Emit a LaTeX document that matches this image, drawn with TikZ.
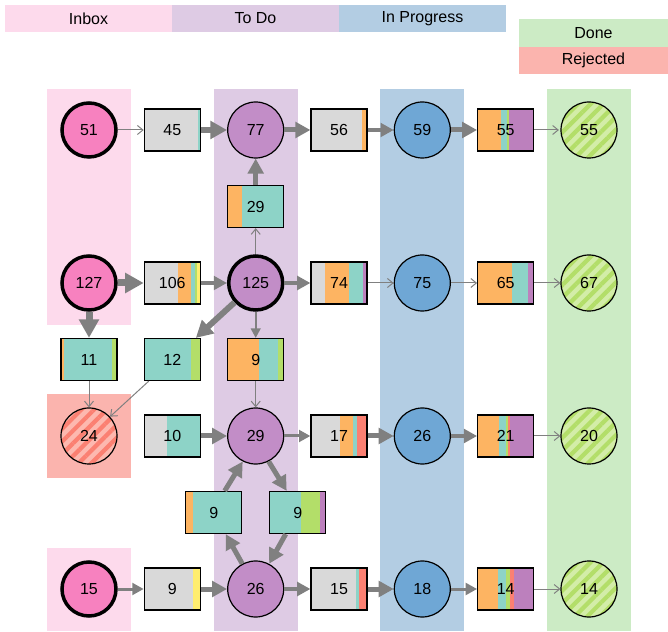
\documentclass[tikz,border=0pt]{standalone}
\usepackage{fontspec}
\setmainfont{Liberation Sans}
\usetikzlibrary{arrows.meta,patterns.meta}
% lane colours
\definecolor{inboxbg}{HTML}{FDDAEC}
\definecolor{todobg}{HTML}{DECBE4}
\definecolor{progbg}{HTML}{B3CDE3}
\definecolor{donebg}{HTML}{CCEBC5}
\definecolor{rejbg}{HTML}{FBB4AE}
% state fills
\definecolor{inboxfill}{HTML}{F781BF}
\definecolor{todofill}{HTML}{C28DC7}
\definecolor{progfill}{HTML}{6FA7D5}
\definecolor{donelight}{HTML}{D3EDA8}
\definecolor{rejlight}{HTML}{FDB8AF}
% segment colours of the transition boxes
\definecolor{sgray}{HTML}{D9D9D9}
\definecolor{sorange}{HTML}{FDB462}
\definecolor{steal}{HTML}{8DD3C7}
\definecolor{sgreen}{HTML}{B3DE69}
\definecolor{spurple}{HTML}{BC80BD}
\definecolor{sred}{HTML}{FB8072}
\definecolor{syellow}{HTML}{FFED6F}
\definecolor{flowgray}{HTML}{808080}

\begin{document}
\begin{tikzpicture}[x=1pt,y=1pt,
 every node/.style={font=\fontsize{16}{19}\selectfont},
 head/.style={minimum width=167pt,minimum height=27.5pt,inner sep=0pt},
 state/.style={circle,draw=black,line width=1.2pt,minimum size=56pt,inner sep=0pt},
 inbox/.style={state,fill=inboxfill,line width=3.5pt,minimum size=54pt},
 todo/.style={state,fill=todofill},
 prog/.style={state,fill=progfill},
 done/.style={state,preaction={fill=donelight},pattern={Lines[angle=45,distance=9pt,line width=4.2pt]},pattern color=sgreen},
 rej/.style={state,preaction={fill=rejlight},pattern={Lines[angle=45,distance=9pt,line width=4.2pt]},pattern color=sred},
 hop/.style={rectangle,draw=black,line width=1.2pt,minimum width=56pt,minimum height=42pt,inner sep=0pt,
  path picture={\foreach \segcol/\xb [remember=\xb as \xa (initially 0)] in {#1}
   \fill[\segcol] ([xshift=\xa pt]path picture bounding box.south west) rectangle ([xshift=\xb pt]path picture bounding box.north west);}},
 trickle/.style={draw=flowgray,line width=1pt,-{Straight Barb[length=5.5pt,width=9pt]}},
 flow/.style={draw=flowgray,line width=#1pt,-{Triangle[length=6pt 1.8,width=6pt 1.9]}}]
\useasboundingbox (0,0) rectangle (668,631);
% lanes
\fill[inboxbg] (47,305.5) rectangle (131,542);
\fill[inboxbg] (47,0) rectangle (131,83);
\fill[rejbg] (47,153) rectangle (131,237);
\fill[todobg] (213.7,0) rectangle (297.7,542);
\fill[progbg] (380.3,0) rectangle (464.3,542);
\fill[donebg] (547,0) rectangle (631,542);
% legend
\node[head,fill=inboxbg] (hInbox) at (88.5,612.5) {Inbox};
\node[head,fill=todobg] (hTodo) at (255.5,612.5) {To Do};
\node[head,fill=progbg] (hProg) at (422.5,612.5) {In Progress};
\node[head,fill=donebg,minimum width=149pt] (hDone) at (593.5,597.75) {Done};
\node[head,fill=rejbg,minimum width=149pt] (hRej) at (593.5,570.25) {Rejected};
% row A
\node[inbox] (inA) at (89,501) {51};
\node[hop={sgray/53.5,steal/56}] (mvA1) at (172.3,501) {45};
\node[todo] (todoA) at (255.7,501) {77};
\node[hop={sgray/51,sorange/55,steal/56}] (mvA3) at (339,501) {56};
\node[prog] (progA) at (422.3,501) {59};
\node[hop={sorange/23,steal/29,sgreen/31,spurple/56}] (mvA5) at (505.7,501) {55};
\node[done] (doneA) at (589,501) {55};
\node[hop={sorange/14,steal/55,sgreen/56}] (mvAB) at (255.7,424.5) {29};
% row B
\node[inbox] (inB) at (89,348) {127};
\node[hop={sgray/34,sorange/47,steal/50.5,sgreen/53,syellow/55.5,spurple/56}] (mvB1) at (172.3,348) {106};
\node[todo,line width=3.5pt,minimum size=54pt] (todoB) at (255.7,348) {125};
\node[hop={sgray/13.5,sorange/38,steal/52,spurple/56}] (mvB3) at (339,348) {74};
\node[prog] (progB) at (422.3,348) {75};
\node[hop={sorange/34,steal/50,spurple/56}] (mvB5) at (505.7,348) {65};
\node[done] (doneB) at (589,348) {67};
\node[hop={sorange/2.5,steal/50.5,sgreen/56}] (mvBC0) at (89,271.5) {11};
\node[hop={steal/47,sgreen/56}] (mvBC1) at (172.3,271.5) {12};
\node[hop={sorange/31,steal/50,sgreen/56}] (mvBC2) at (255.7,271.5) {9};
% row C
\node[rej] (rejC) at (89,195) {24};
\node[hop={sgray/22.5,steal/56}] (mvC1) at (172.3,195) {10};
\node[todo] (todoC) at (255.7,195) {29};
\node[hop={sgray/28.5,sorange/41.5,steal/46,sred/56}] (mvC3) at (339,195) {17};
\node[prog] (progC) at (422.3,195) {26};
\node[hop={sorange/21.5,steal/28.5,sgreen/30.5,sred/32.5,spurple/56}] (mvC5) at (505.7,195) {21};
\node[done] (doneC) at (589,195) {20};
\node[hop={sorange/7,steal/56}] (mvCDl) at (213.7,118.5) {9};
\node[hop={steal/31.5,sgreen/50,spurple/56}] (mvCDr) at (297.7,118.5) {9};
% row D
\node[inbox] (inD) at (89,42) {15};
\node[hop={sgray/49,syellow/56}] (mvD1) at (172.3,42) {9};
\node[todo] (todoD) at (255.7,42) {26};
\node[hop={sgray/45,steal/48,sred/56}] (mvD3) at (339,42) {15};
\node[prog] (progD) at (422.3,42) {18};
\node[hop={sorange/20.5,steal/28.5,sgreen/32.5,sred/36.5,spurple/56}] (mvD5) at (505.7,42) {14};
\node[done] (doneD) at (589,42) {14};
% transitions
\draw[trickle] (inA) -- (mvA1); \draw[flow=6] (mvA1) -- (todoA);
\draw[flow=5] (todoA) -- (mvA3); \draw[flow=4] (mvA3) -- (progA);
\draw[flow=5] (progA) -- (mvA5); \draw[trickle] (mvA5) -- (doneA);
\draw[flow=5] (mvAB) -- (todoA); \draw[trickle] (todoB) -- (mvAB);
\draw[flow=7] (inB) -- (mvB1); \draw[flow=4] (mvB1) -- (todoB);
\draw[flow=4] (todoB) -- (mvB3); \draw[trickle] (mvB3) -- (progB);
\draw[trickle] (progB) -- (mvB5); \draw[trickle] (mvB5) -- (doneB);
\draw[flow=7] (inB) -- (mvBC0); \draw[flow=6] (todoB) -- (mvBC1);
\draw[flow=2] (todoB) -- (mvBC2);
\draw[trickle] (mvBC0) -- (rejC); \draw[trickle] (mvBC1) -- (rejC);
\draw[trickle] (mvBC2) -- (todoC);
\draw[flow=5] (mvC1) -- (todoC); \draw[flow=3] (todoC) -- (mvC3);
\draw[flow=5] (mvC3) -- (progC); \draw[flow=4] (progC) -- (mvC5);
\draw[trickle] (mvC5) -- (doneC);
\draw[flow=5] ([xshift=11pt]mvCDl.north) -- (todoC.243);
\draw[flow=5] (todoC.297) -- ([xshift=-11pt]mvCDr.north);
\draw[flow=5] (todoD.118) -- ([xshift=12pt]mvCDl.south);
\draw[flow=5] ([xshift=-12pt]mvCDr.south) -- (todoD.62);
\draw[flow=3] (inD) -- (mvD1); \draw[flow=5] (mvD1) -- (todoD);
\draw[flow=4] (todoD) -- (mvD3); \draw[flow=5] (mvD3) -- (progD);
\draw[flow=3] (progD) -- (mvD5); \draw[trickle] (mvD5) -- (doneD);
\end{tikzpicture}
\end{document}
